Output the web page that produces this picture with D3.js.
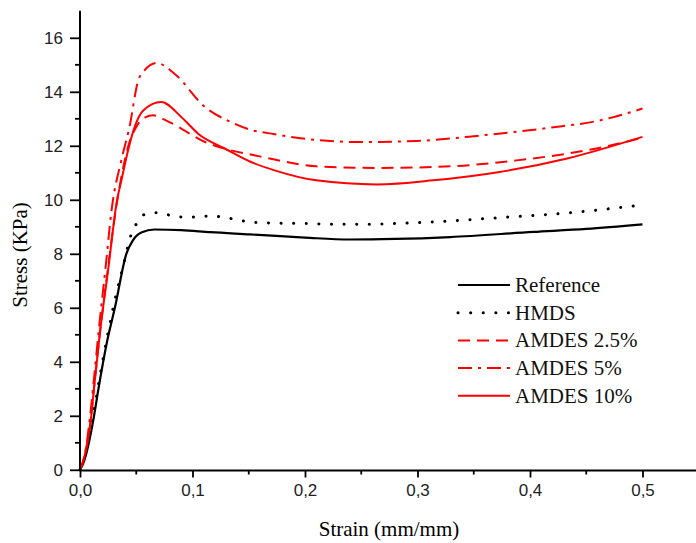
<!DOCTYPE html>
<html>
<head>
<meta charset="utf-8">
<script src="https://cdn.jsdelivr.net/npm/d3@7"></script>
<style>
  html, body { margin: 0; padding: 0; background: #fff; }
  svg { display: block; }
</style>
</head>
<body>
<svg id="chart" width="696" height="543"></svg>
<script>
// ---- Data ----
const seriesNames = ["Reference", "HMDS", "AMDES 2.5%", "AMDES 5%", "AMDES 10%"];

const refStrain = [0, 0.003, 0.0125, 0.016, 0.0243, 0.031, 0.0412, 0.047, 0.055, 0.066, 0.09, 0.116, 0.151, 0.2, 0.24, 0.28, 0.329, 0.403, 0.45, 0.5];
const refStress = [0, 0.25, 2.0, 2.9, 4.8, 6.0, 8.0, 8.5, 8.8, 8.9, 8.88, 8.8, 8.72, 8.6, 8.53, 8.55, 8.62, 8.81, 8.92, 9.09];

const hmdsStrain = [0, 0.003, 0.012, 0.02, 0.03, 0.041, 0.0436, 0.0486, 0.0575, 0.068, 0.08, 0.0916, 0.103, 0.115, 0.157, 0.2, 0.24, 0.314, 0.373, 0.427, 0.46, 0.492, 0.5];
const hmdsStress = [0, 0.3, 2.1, 4.0, 6.1, 8.0, 8.47, 8.99, 9.46, 9.52, 9.43, 9.36, 9.36, 9.4, 9.16, 9.12, 9.09, 9.18, 9.34, 9.49, 9.62, 9.77, 9.8];

const a25Strain = [0, 0.004, 0.01, 0.0124, 0.0175, 0.025, 0.031, 0.037, 0.043, 0.05, 0.058, 0.065, 0.075, 0.09, 0.108, 0.1316, 0.155, 0.173, 0.21, 0.264, 0.329, 0.388, 0.433, 0.459, 0.5];
const a25Stress = [0, 0.5, 2.0, 3.0, 5.0, 7.5, 9.4, 10.9, 12.0, 12.7, 13.05, 13.13, 12.97, 12.64, 12.2, 11.86, 11.65, 11.49, 11.24, 11.18, 11.24, 11.46, 11.71, 11.9, 12.3];

const a5Strain = [0, 0.004, 0.009, 0.012, 0.017, 0.023, 0.028, 0.0367, 0.044, 0.0516, 0.0575, 0.068, 0.084, 0.111, 0.134, 0.151, 0.173, 0.204, 0.249, 0.299, 0.358, 0.418, 0.462, 0.5];
const a5Stress = [0, 0.5, 2.0, 3.2, 5.3, 7.6, 9.6, 11.46, 12.7, 14.4, 14.8, 15.07, 14.67, 13.44, 12.88, 12.6, 12.43, 12.24, 12.14, 12.18, 12.39, 12.67, 12.94, 13.38];

const a10Strain = [0, 0.004, 0.01, 0.0124, 0.0175, 0.025, 0.033, 0.0367, 0.0427, 0.0486, 0.056, 0.0723, 0.09, 0.105, 0.1286, 0.152, 0.173, 0.21, 0.264, 0.314, 0.373, 0.433, 0.5];
const a10Stress = [0, 0.5, 2.0, 3.0, 5.0, 7.4, 10.0, 10.7, 11.83, 12.7, 13.3, 13.62, 13.07, 12.45, 11.9, 11.4, 11.09, 10.72, 10.57, 10.72, 11.03, 11.53, 12.33];

const xTickValues = [0, 0.1, 0.2, 0.3, 0.4, 0.5];
const xTickLabels = ["0,0", "0,1", "0,2", "0,3", "0,4", "0,5"];
const yTickValues = [0, 2, 4, 6, 8, 10, 12, 14, 16];
const yTickLabels = ["0", "2", "4", "6", "8", "10", "12", "14", "16"];

// ---- Layout ----
const svg = d3.select("#chart");
const x = d3.scaleLinear().domain([0, 0.55]).range([80, 698.75]);
const y = d3.scaleLinear().domain([0, 17]).range([469.8, 10.8]);

const styles = [
  { color: "#000", dash: null, width: 2.2, cap: "butt" },
  { color: "#000", dash: "0.1,12.5", width: 3, cap: "round" },
  { color: "#f00", dash: "12,7", width: 2, cap: "butt" },
  { color: "#f00", dash: "14,6,3,6", width: 2, cap: "butt" },
  { color: "#f00", dash: null, width: 2, cap: "butt" }
];
const seriesData = [
  d3.zip(refStrain, refStress),
  d3.zip(hmdsStrain, hmdsStress),
  d3.zip(a25Strain, a25Stress),
  d3.zip(a5Strain, a5Stress),
  d3.zip(a10Strain, a10Stress)
];

const line = d3.line().x(d => x(d[0])).y(d => y(d[1])).curve(d3.curveMonotoneX);

const plot = svg.append("g");
seriesData.forEach((data, i) => {
  const s = styles[i];
  plot.append("path")
    .datum(data)
    .attr("d", line)
    .attr("fill", "none")
    .attr("stroke", s.color)
    .attr("stroke-width", s.width)
    .attr("stroke-linecap", s.cap)
    .attr("stroke-linejoin", "round")
    .attr("stroke-dasharray", s.dash);
});

// ---- Axes ----
const tickFont = "'Liberation Sans', Arial, sans-serif";
const xAxis = d3.axisBottom(x).tickValues(xTickValues)
  .tickFormat((d, i) => xTickLabels[i]).tickSize(7).tickPadding(6);
const gx = svg.append("g").attr("transform", "translate(0,470.5)").call(xAxis);
// minor x ticks
gx.selectAll(".minor").data([0.05, 0.15, 0.25, 0.35, 0.45]).enter()
  .append("line").attr("x1", d => x(d)).attr("x2", d => x(d))
  .attr("y1", 0).attr("y2", 4).attr("stroke", "#000").attr("stroke-width", 1.8);

const yAxis = d3.axisLeft(y).tickValues(yTickValues)
  .tickFormat((d, i) => yTickLabels[i]).tickSize(10).tickPadding(7);
const gy = svg.append("g").attr("transform", "translate(80,0)").call(yAxis);
gy.selectAll(".minor").data([1, 3, 5, 7, 9, 11, 13, 15]).enter()
  .append("line").attr("x1", 0).attr("x2", -5)
  .attr("y1", d => y(d)).attr("y2", d => y(d))
  .attr("stroke", "#000").attr("stroke-width", 1.8);

[gx, gy].forEach(g => {
  g.select(".domain").attr("stroke", "#000").attr("stroke-width", 2);
  g.selectAll(".tick line").attr("stroke", "#000").attr("stroke-width", 1.8);
  g.selectAll(".tick text").attr("fill", "#222")
    .style("font-family", tickFont).style("font-size", "17px");
});
gx.select(".domain").attr("d", `M${x(0)},0H${x(0.55)}`);
gy.select(".domain").attr("d", `M0,${y(0)}V${y(17)}`);

// ---- Axis titles ----
const serif = "'Liberation Serif', 'Times New Roman', serif";
svg.append("text")
  .attr("x", 389).attr("y", 536)
  .attr("text-anchor", "middle")
  .style("font-family", serif).style("font-size", "21px")
  .text("Strain (mm/mm)");
svg.append("text")
  .attr("transform", "translate(27,255) rotate(-90)")
  .attr("text-anchor", "middle")
  .style("font-family", serif).style("font-size", "21px")
  .text("Stress (KPa)");

// ---- Legend ----
const legend = svg.append("g");
seriesNames.forEach((name, i) => {
  const s = styles[i];
  const yy = 285 + i * 27.7;
  legend.append("line")
    .attr("x1", 458).attr("x2", 510).attr("y1", yy).attr("y2", yy)
    .attr("stroke", s.color)
    .attr("stroke-width", s.width)
    .attr("stroke-linecap", s.cap)
    .attr("stroke-dasharray", s.dash);
  legend.append("text")
    .attr("x", 515).attr("y", yy + 7)
    .style("font-family", serif).style("font-size", "21px")
    .attr("fill", "#111")
    .text(name);
});
</script>
</body>
</html>
